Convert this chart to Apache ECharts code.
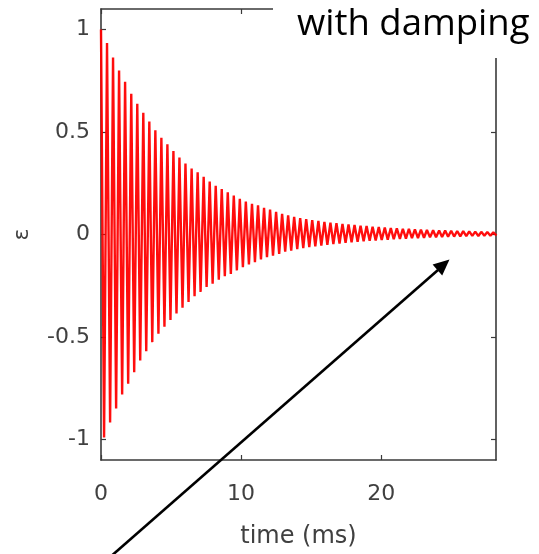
<!DOCTYPE html>
<html>
<head>
<meta charset="utf-8">
<script src="https://cdn.jsdelivr.net/npm/echarts@6/dist/echarts.min.js"></script>
<style>
html,body{margin:0;padding:0;background:#fff;}
#chart{width:539px;height:554px;}
</style>
</head>
<body>
<div id="chart"></div>
<script>
// ---- data ----
var xTicks = [0, 10, 20];
var yTicks = [-1, -0.5, 0, 0.5, 1];
var xLabelText = 'time (ms)';
var yLabelText = 'ε';
var annotationText = 'with damping';

// positive extremes (time in ms, value)
var posPeakTimes = [0, 0.43, 0.86, 1.29, 1.72, 2.16, 2.59, 3.02, 3.45, 3.88, 4.31, 4.74, 5.17, 5.60, 6.03, 6.47, 6.90, 7.33, 7.76, 8.19, 8.62, 9.05, 9.48, 9.91, 10.34, 10.78, 11.21, 11.64, 12.07, 12.50, 12.93, 13.36, 13.79, 14.22, 14.65, 15.08, 15.52, 15.95, 16.38, 16.81, 17.24, 17.67, 18.10, 18.53, 18.96, 19.39, 19.83, 20.26, 20.69, 21.12, 21.55, 21.98, 22.41, 22.84, 23.27, 23.71, 24.14, 24.57, 25.00, 25.43, 25.86, 26.29, 26.72, 27.15, 27.58, 28.01];
var posPeakValues = [1.00, 0.934, 0.863, 0.80, 0.745, 0.686, 0.638, 0.594, 0.551, 0.509, 0.472, 0.44, 0.407, 0.375, 0.346, 0.322, 0.303, 0.282, 0.258, 0.238, 0.222, 0.206, 0.19, 0.174, 0.161, 0.15, 0.142, 0.130, 0.122, 0.11, 0.101, 0.093, 0.086, 0.08, 0.075, 0.07, 0.066, 0.062, 0.058, 0.055, 0.052, 0.049, 0.046, 0.043, 0.041, 0.038, 0.036, 0.034, 0.032, 0.030, 0.028, 0.027, 0.025, 0.024, 0.022, 0.021, 0.020, 0.019, 0.018, 0.017, 0.016, 0.015, 0.014, 0.013, 0.012, 0.011];
// negative extremes (time in ms, value)
var negPeakTimes = [0.22, 0.65, 1.08, 1.51, 1.94, 2.37, 2.80, 3.23, 3.66, 4.10, 4.53, 4.96, 5.39, 5.82, 6.25, 6.68, 7.11, 7.54, 7.97, 8.41, 8.84, 9.27, 9.70, 10.13, 10.56, 10.99, 11.42, 11.85, 12.28, 12.72, 13.15, 13.58, 14.01, 14.44, 14.87, 15.30, 15.73, 16.16, 16.59, 17.03, 17.46, 17.89, 18.32, 18.75, 19.18, 19.61, 20.04, 20.47, 20.90, 21.34, 21.77, 22.20, 22.63, 23.06, 23.49, 23.92, 24.35, 24.78, 25.21, 25.65, 26.08, 26.51, 26.94, 27.37, 27.80, 28.23];
var negPeakValues = [-0.99, -0.917, -0.849, -0.78, -0.728, -0.672, -0.615, -0.57, -0.525, -0.484, -0.45, -0.417, -0.385, -0.357, -0.329, -0.301, -0.28, -0.256, -0.24, -0.221, -0.204, -0.192, -0.175, -0.159, -0.146, -0.135, -0.122, -0.111, -0.103, -0.095, -0.084, -0.079, -0.071, -0.066, -0.062, -0.058, -0.054, -0.05, -0.047, -0.044, -0.041, -0.038, -0.035, -0.033, -0.031, -0.029, -0.027, -0.025, -0.023, -0.021, -0.02, -0.018, -0.017, -0.016, -0.014, -0.013, -0.012, -0.011, -0.01, -0.009, -0.008, -0.007, -0.007, -0.006, -0.006, -0.005];

// interleave extremes into one trace
var trace = [];
for (var i = 0; i < Math.max(posPeakTimes.length, negPeakTimes.length); i++) {
  if (i < posPeakTimes.length) trace.push([posPeakTimes[i], posPeakValues[i]]);
  if (i < negPeakTimes.length) trace.push([negPeakTimes[i], negPeakValues[i]]);
}

var axisColor = '#3a3a3a';
var labelColor = '#404040';
var labelFont = 'DejaVu Sans';

var chart = echarts.init(document.getElementById('chart'), null, {renderer: 'canvas'});
chart.setOption({
  animation: false,
  backgroundColor: '#fff',
  grid: {left: 101, top: 9, right: 43, bottom: 92, containLabel: false},
  xAxis: [{
    type: 'value', min: 0, max: 28.2, position: 'bottom',
    name: xLabelText, nameLocation: 'middle', nameGap: 65,
    nameTextStyle: {fontFamily: labelFont, fontSize: 24, color: labelColor},
    axisLine: {show: true, onZero: false, lineStyle: {color: axisColor, width: 1.6}},
    axisTick: {show: true, inside: true, length: 5, customValues: xTicks, lineStyle: {color: axisColor, width: 1.2}},
    axisLabel: {customValues: xTicks, margin: 23, fontFamily: labelFont, fontSize: 22, color: labelColor},
    splitLine: {show: false}
  }, {
    type: 'value', min: 0, max: 28.2, position: 'top',
    axisLine: {show: true, onZero: false, lineStyle: {color: axisColor, width: 1.6}},
    axisTick: {show: true, inside: true, length: 5, customValues: xTicks, lineStyle: {color: axisColor, width: 1.2}},
    axisLabel: {show: false},
    splitLine: {show: false}
  }],
  yAxis: [{
    type: 'value', min: -1.1, max: 1.1, position: 'left',
    name: yLabelText, nameLocation: 'middle', nameGap: 68, nameRotate: 90,
    nameTextStyle: {fontFamily: labelFont, fontSize: 22, color: labelColor},
    axisLine: {show: true, onZero: false, lineStyle: {color: axisColor, width: 1.6}},
    axisTick: {show: true, inside: true, length: 5, customValues: yTicks, lineStyle: {color: axisColor, width: 1.2}},
    axisLabel: {customValues: yTicks, margin: 11, fontFamily: labelFont, fontSize: 22, color: labelColor},
    splitLine: {show: false}
  }, {
    type: 'value', min: -1.1, max: 1.1, position: 'right',
    axisLine: {show: true, onZero: false, lineStyle: {color: axisColor, width: 1.6}},
    axisTick: {show: true, inside: true, length: 5, customValues: yTicks, lineStyle: {color: axisColor, width: 1.2}},
    axisLabel: {show: false},
    splitLine: {show: false}
  }],
  series: [{
    type: 'line',
    xAxisIndex: 0, yAxisIndex: 0,
    data: trace,
    showSymbol: false,
    clip: true,
    lineStyle: {color: '#ff0000', width: 2.4, opacity: 0.95},
    z: 1
  }],
  graphic: [
    {type: 'rect', shape: {x: 273, y: 0, width: 266, height: 58}, style: {fill: '#ffffff'}, z: 100},
    {type: 'text', x: 297, y: 25, style: {text: annotationText, font: '36.5px "Open Sans"', fill: '#000', textVerticalAlign: 'middle'}, z: 101},
    {type: 'line', shape: {x1: 109, y1: 558, x2: 438, y2: 270}, style: {stroke: '#000', lineWidth: 2.6}, z: 100},
    {type: 'polygon', shape: {points: [[449.5, 259.5], [442.2, 275.5], [432.6, 264.5]]}, style: {fill: '#000'}, z: 101}
  ]
});
</script>
</body>
</html>
